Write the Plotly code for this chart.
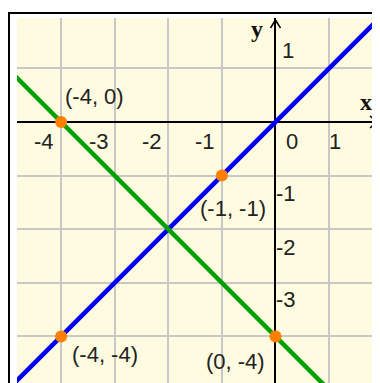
import plotly.graph_objects as go

# lines y = x and y = -x - 4
blue_x = [-5, 2]
blue_y = [-5, 2]
green_x = [-5, 1]
green_y = [1, -5]

# marked points and their labels
pt_x = [-4, -1, -4, 0]
pt_y = [0, -1, -4, -4]
pt_text = ['(-4, 0)', '(-1, -1)', '(-4, -4)', '(0, -4)']
pt_dx = [33, 11, 44, -40]   # label offset from the point, px
pt_dy = [25, -33, -18, -25]

# axis numbers
xticks = [-4, -3, -2, -1, 0, 1]
xtick_text = ['-4', '-3', '-2', '-1', '0', '1']
xtick_dx = [-17, -16, -16, -17, 17, 6]
yticks = [1, -1, -2, -3]
ytick_text = ['1', '-1', '-2', '-3']
ytick_dy = [18, -18, -18, -17]

cream = '#FFFBE0'
font = 'Liberation Sans'
txt = dict(family=font, size=22, color='#222222')

# the page body adds 8px on the left and top, so the figure is 8px smaller
W, H = 372, 375
L, T = 9, 10
PW, PH = W - L, H - T

fig = go.Figure()
fig.add_trace(go.Scatter(x=blue_x, y=blue_y, mode='lines',
                         line=dict(color='#0000F5', width=4.5), hoverinfo='skip'))
fig.add_trace(go.Scatter(x=green_x, y=green_y, mode='lines',
                         line=dict(color='#00A000', width=4.5), hoverinfo='skip'))
fig.add_trace(go.Scatter(x=pt_x, y=pt_y, mode='markers',
                         marker=dict(color='#FF7F00', size=12, line=dict(width=0))))

for x, y, t, dx, dy in zip(pt_x, pt_y, pt_text, pt_dx, pt_dy):
    fig.add_annotation(x=x, y=y, text=t, showarrow=False, xshift=dx, yshift=dy, font=txt)
for x, t, dx in zip(xticks, xtick_text, xtick_dx):
    fig.add_annotation(x=x, y=0, text=t, showarrow=False, xshift=dx, yshift=-20, font=txt)
for y, t, dy in zip(yticks, ytick_text, ytick_dy):
    fig.add_annotation(x=0, y=y, text=t, showarrow=False, xanchor='left',
                       xshift=-1 if t.startswith('-') else 5, yshift=dy, font=txt)

# axis names (screen pixel positions measured on the picture)
fig.add_annotation(xref='paper', yref='paper', x=(257 - 17) / PW, y=(383 - 29) / PH,
                   xanchor='center', yanchor='middle',
                   text='<b>y</b>', showarrow=False,
                   font=dict(family='Liberation Serif', size=24, color='#111111'))
fig.add_annotation(xref='paper', yref='paper', x=(366 - 17) / PW, y=(383 - 102) / PH,
                   xanchor='center', yanchor='middle',
                   text='<b>x</b>', showarrow=False,
                   font=dict(family='Liberation Serif', size=24, color='#111111'))

# open arrow heads on the axes
fig.add_shape(type='path', xref='x', xsizemode='pixel', xanchor=0,
              yref='paper', ysizemode='pixel', yanchor=1,
              path='M -5,-10 L 0,-2 L 5,-10', line=dict(color='black', width=1.5))
fig.add_shape(type='path', xref='paper', xsizemode='pixel', xanchor=1,
              yref='y', ysizemode='pixel', yanchor=0,
              path='M -10,6 L -3,0 L -10,-6', line=dict(color='black', width=1.5))

# frame around the picture
fx = (1 - L) / PW
fy = (H - 5) / PH
fig.add_shape(type='path', xref='paper', yref='paper',
              path='M %f,%f L %f,%f L %f,%f' % (fx, -0.05, fx, fy, 1.05, fy),
              line=dict(color='black', width=2))

fig.update_layout(
    width=W, height=H,
    margin=dict(l=L, r=0, t=T, b=0),
    paper_bgcolor='white', plot_bgcolor=cream,
    showlegend=False,
    xaxis=dict(range=[-4.823, 1.950], dtick=1, showticklabels=False, ticks='',
               gridcolor='#C8C8C8', gridwidth=2,
               zeroline=True, zerolinecolor='black', zerolinewidth=2, fixedrange=True),
    yaxis=dict(range=[-4.869, 1.940], dtick=1, showticklabels=False, ticks='',
               gridcolor='#C8C8C8', gridwidth=2,
               zeroline=True, zerolinecolor='black', zerolinewidth=2, fixedrange=True),
)
fig.write_html('out.html')
